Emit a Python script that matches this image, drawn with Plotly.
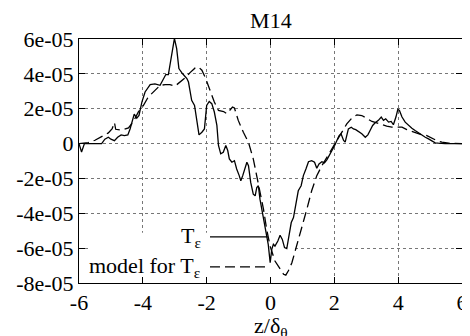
import numpy as np
import plotly.graph_objects as go

# Data (y in units of 1e-5)
x_T = [-6.0, -5.92, -5.83, -5.29, -5.19, -5.08, -5.0, -4.89, -4.79, -4.68, -4.58, -4.47, -4.4, -4.33,
       -4.27, -4.19, -4.12, -4.03, -3.93, -3.77, -3.62, -3.46, -3.36, -3.28, -3.2, -3.1, -3.01, -2.94,
       -2.87, -2.76, -2.62, -2.57, -2.47, -2.38, -2.31, -2.24, -2.15, -2.07, -2.0, -1.92, -1.84, -1.76,
       -1.68, -1.63, -1.56, -1.48, -1.4, -1.34, -1.29, -1.21, -1.13, -1.06, -0.98, -0.93, -0.87, -0.8,
       -0.74, -0.69, -0.62, -0.54, -0.48, -0.43, -0.38, -0.33, -0.25, -0.17, -0.12, -0.07, -0.01, 0.04,
       0.09, 0.14, 0.23, 0.3, 0.37, 0.44, 0.51, 0.58, 0.65, 0.72, 0.79, 0.87, 0.96, 1.03, 1.11, 1.19,
       1.29, 1.38, 1.45, 1.52, 1.61, 1.69, 1.77, 1.84, 1.92, 2.01, 2.08, 2.15, 2.21, 2.29, 2.34, 2.39,
       2.44, 2.53, 2.6, 2.67, 2.76, 2.86, 2.97, 3.05, 3.12, 3.2, 3.28, 3.38, 3.47, 3.54, 3.61, 3.7,
       3.78, 3.85, 3.93, 3.99, 4.04, 4.12, 4.22, 4.32, 4.43, 4.53, 4.64, 4.74, 4.85, 4.95, 5.06, 5.16,
       5.26, 5.47, 6.0]
y_T = [0, -0.48, 0, 0, 0.25, 0.36, 0.25, 0.17, 0.36, 0.5, 0.46, 0.5, 0.84, 1.23,
       1.69, 1.46, 1.61, 2.38, 2.96, 3.38, 3.42, 3.34, 3.73, 3.96, 3.96, 5.07, 6.03, 5.45,
       4.3, 4.02, 3.73, 3.53, 2.48, 2.19, 1.23, 0.5, 0.65, 0.84, 2.19, 2.42, 2.29, 1.81,
       1.04, -0.11, -0.59, -0.5, -0.11, -0.4, -0.88, -1.07, -0.98, -1.46, -1.84, -2.13, -1.84, -1.36,
       -1.07, -1.27, -2.23, -2.9, -3.0, -2.52, -2.42, -3.19, -3.96, -4.92, -5.4, -5.8, -6.84, -6.07,
       -5.78, -5.88, -5.59, -5.26, -5.5, -5.97, -6.03, -5.3, -4.53, -4.25, -3.57, -2.71, -2.42, -1.84, -1.46, -1.04,
       -0.98, -1.07, -1.42, -1.17, -1.04, -1.11, -0.92, -0.69, -0.46, -0.11, 0.18, 0.46, 0.56, 0.18, 0.08, 0.56,
       0.84, 0.94, 0.84, 0.8, 0.69, 0.56, 0.36, 0.5, 0.75, 1.04, 1.19, 1.33, 1.52, 1.33, 1.42, 1.23,
       1.27, 1.08, 1.52, 1.96, 1.9, 1.52, 1.23, 1.04, 0.88, 0.75, 0.61, 0.5, 0.36, 0.27, 0.17, 0.04,
       0.02, 0, 0]

x_M = [-6.0, -5.71, -5.5, -5.29, -5.08, -4.96, -4.89, -4.85, -4.66, -4.45, -4.3, -4.14, -3.98, -3.83,
       -3.62, -3.46, -3.3, -3.15, -2.99, -2.83, -2.68, -2.52, -2.36, -2.26, -2.15, -2.03, -1.89, -1.76,
       -1.63, -1.47, -1.37, -1.27, -1.19, -1.13, -1.01, -0.85, -0.69, -0.54, -0.43, -0.33, -0.22, -0.12,
       -0.01, 0.14, 0.3, 0.41, 0.48, 0.56, 0.67, 0.82, 0.98, 1.14, 1.29, 1.45, 1.61, 1.77, 1.92, 2.08,
       2.24, 2.39, 2.55, 2.71, 2.86, 3.02, 3.18, 3.33, 3.49, 3.64, 3.8, 3.96, 4.12, 4.27, 4.43, 4.58,
       4.74, 4.9, 5.06, 5.21, 5.37, 5.58, 6.0]
y_M = [0, 0.06, 0.19, 0.38, 0.61, 0.86, 1.21, 0.82, 0.77, 0.9, 1.25, 1.82, 2.19, 2.67,
       3.05, 3.34, 3.38, 3.38, 3.3, 3.53, 3.76, 4.07, 4.34, 4.4, 4.21, 3.73, 3.05, 2.38,
       1.9, 1.84, 1.71, 1.9, 2.09, 2.04, 1.33, 0.65, 0.07, -0.88, -1.84, -2.8, -3.76, -4.92,
       -5.9, -6.74, -7.22, -7.5, -7.55, -7.3, -6.84, -5.88, -4.82, -3.76, -2.71, -1.84, -1.27, -0.77, -0.38, 0.18,
       0.67, 1.13, 1.46, 1.65, 1.61, 1.42, 1.27, 1.19, 1.07, 1.0, 0.94, 0.94, 0.94, 0.8, 0.69, 0.61,
       0.5, 0.46, 0.31, 0.17, 0.08, 0.02, 0]

x_ticks = [-6, -4, -2, 0, 2, 4, 6]
y_tick_vals = [6e-05, 4e-05, 2e-05, 0, -2e-05, -4e-05, -6e-05, -8e-05]
y_tick_text = ["6e-05", "4e-05", "2e-05", "0", "-2e-05", "-4e-05", "-6e-05", "-8e-05"]

SCALE = 1e-05
FONT = "Liberation Serif, Times New Roman, Times, DejaVu Serif, serif"
FS = 22

fig = go.Figure()
fig.add_trace(go.Scatter(x=x_T, y=np.array(y_T) * SCALE, mode="lines",
                         line=dict(color="black", width=1.3), name="T_ε", showlegend=False))
fig.add_trace(go.Scatter(x=x_M, y=np.array(y_M) * SCALE, mode="lines",
                         line=dict(color="black", width=1.3, dash="10px,5px"),
                         name="model for T_ε", showlegend=False))

# white legend background hiding grid
fig.add_shape(type="rect", xref="x", yref="y", x0=-5.7, x1=0.77, y0=-8e-05, y1=-5.12e-05,
              fillcolor="white", line=dict(width=0), layer="between")

# legend samples and labels
fig.add_shape(type="line", xref="paper", yref="paper", x0=0.342, x1=0.493, y0=0.189, y1=0.189,
              line=dict(color="black", width=1.3))
fig.add_shape(type="line", xref="paper", yref="paper", x0=0.342, x1=0.493, y0=0.066, y1=0.066,
              line=dict(color="black", width=1.3, dash="10px,5px"))
fig.add_annotation(xref="paper", yref="paper", x=0.325, y=0.189, text="T<sub>ε</sub>",
                   showarrow=False, xanchor="right", yanchor="middle",
                   font=dict(family=FONT, size=FS, color="black"))
fig.add_annotation(xref="paper", yref="paper", x=0.325, y=0.066, text="model for T<sub>ε</sub>",
                   showarrow=False, xanchor="right", yanchor="middle",
                   font=dict(family=FONT, size=FS, color="black"))

# x-axis title
fig.add_annotation(xref="paper", yref="paper", x=0.5, y=-0.18, text="z/δ<sub>θ</sub>",
                   showarrow=False, xanchor="center", yanchor="middle",
                   font=dict(family=FONT, size=FS, color="black"))

axis_common = dict(showline=True, linecolor="black", linewidth=1, mirror="ticks",
                   ticks="inside", ticklen=6, tickwidth=1, tickcolor="black",
                   showgrid=True, gridcolor="#777777", griddash="dot", gridwidth=1,
                   zeroline=False, automargin=False,
                   tickfont=dict(family=FONT, size=FS, color="black"))

fig.update_xaxes(range=[-6, 6], tickvals=x_ticks, ticktext=[str(v) for v in x_ticks], **axis_common)
fig.update_yaxes(range=[-8e-05, 6e-05], tickvals=y_tick_vals, ticktext=y_tick_text, **axis_common)

# page body has an 8px margin, so the figure is sized/offset to compensate
fig.update_layout(
    width=462, height=328,
    margin=dict(l=71, r=8, t=31, b=53, autoexpand=False),
    paper_bgcolor="white", plot_bgcolor="white",
    font=dict(family=FONT, size=FS, color="black"),
    title=dict(text="M14", x=0.569, xanchor="center", y=0.963, yanchor="middle",
               font=dict(family=FONT, size=FS, color="black")),
    showlegend=False,
)

fig.write_html("out.html")
